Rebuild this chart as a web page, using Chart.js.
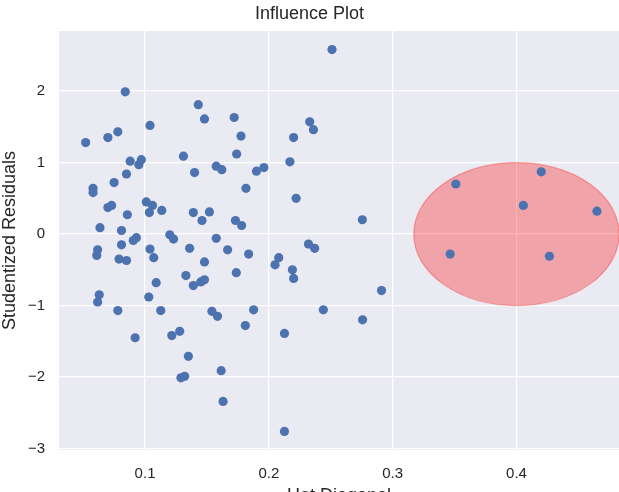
<!DOCTYPE html>
<html>
<head>
<meta charset="utf-8">
<script src="https://cdn.jsdelivr.net/npm/chart.js@4/dist/chart.umd.min.js"></script>
<style>
  html, body { margin: 0; padding: 0; background: #fff; overflow: hidden; }
  #wrap { width: 619px; height: 507px; }
</style>
</head>
<body>
<div id="wrap"><canvas id="influence" width="619" height="507"></canvas></div>
<script>
// leverage (hat diagonal) and studentized residual per observation
const hatDiagonal = [
  0.251, 0.084, 0.143, 0.148, 0.104, 0.078, 0.070, 0.052, 0.131, 0.088,
  0.097, 0.095, 0.140, 0.085, 0.075, 0.058, 0.058, 0.101, 0.106, 0.070,
  0.073, 0.1035, 0.1135, 0.0857, 0.139, 0.146, 0.152, 0.0636, 0.081, 0.120,
  0.123, 0.093, 0.0905, 0.081, 0.104, 0.107, 0.136, 0.0617, 0.061, 0.079,
  0.085, 0.148, 0.133, 0.139, 0.145, 0.148, 0.109, 0.063, 0.0617, 0.103,
  0.078, 0.1127, 0.154, 0.1585, 0.092, 0.1216, 0.128, 0.135, 0.129, 0.132,
  0.172, 0.1775, 0.174, 0.233, 0.236, 0.220, 0.217, 0.1575, 0.162, 0.190,
  0.196, 0.1815, 0.222, 0.173, 0.178, 0.2755, 0.1575, 0.1667, 0.1837, 0.232,
  0.237, 0.208, 0.205, 0.219, 0.220, 0.1737, 0.291, 0.1877, 0.244, 0.2757,
  0.181, 0.2126, 0.1615, 0.163, 0.2126,
  0.351, 0.420, 0.4055, 0.465, 0.3464, 0.4266
];
const studentizedResiduals = [
  2.58, 1.99, 1.81, 1.61, 1.52, 1.43, 1.35, 1.28, 1.09, 1.02,
  1.04, 0.97, 0.86, 0.84, 0.72, 0.64, 0.58, 0.45, 0.40, 0.37,
  0.40, 0.30, 0.33, 0.27, 0.30, 0.19, 0.31, 0.09, 0.05, -0.01,
  -0.07, -0.05, -0.09, -0.15, -0.21, -0.33, -0.20, -0.22, -0.30, -0.35,
  -0.37, -0.39, -0.58, -0.72, -0.67, -0.64, -0.68, -0.85, -0.95, -0.88,
  -1.07, -1.07, -1.08, -1.15, -1.45, -1.42, -1.36, -1.71, -2.01, -1.99,
  1.63, 1.37, 1.12, 1.57, 1.46, 1.35, 1.01, 0.95, 0.90, 0.88,
  0.93, 0.64, 0.50, 0.19, 0.12, 0.20, -0.06, -0.22, -0.28, -0.14,
  -0.20, -0.33, -0.43, -0.50, -0.62, -0.54, -0.79, -1.06, -1.06, -1.20,
  -1.28, -1.39, -1.91, -2.34, -2.76,
  0.70, 0.87, 0.40, 0.32, -0.28, -0.31
];
// highlighted region: centre and half-axes in data units
const ellipseCenter = [0.4, 0];
const ellipseRadii = [0.083, 1.0];

const xTicks = [0.1, 0.2, 0.3, 0.4];
const yTicks = [-3, -2, -1, 0, 1, 2];

const points = hatDiagonal.map((x, i) => ({ x: x, y: studentizedResiduals[i] }));

const textColor = "#262626";
const fontFamily = "'Liberation Sans', Arial, sans-serif";

const styleBackground = {
  id: "styleBackground",
  beforeDraw(chart) {
    const { ctx, chartArea: a } = chart;
    ctx.save();
    ctx.fillStyle = "#EAEAF2";
    ctx.fillRect(a.left, a.top, a.right - a.left, a.bottom - a.top);
    ctx.restore();
  },
  beforeDatasetsDraw(chart) {
    const { ctx, chartArea: a, scales } = chart;
    const cx = scales.x.getPixelForValue(ellipseCenter[0]);
    const cy = scales.y.getPixelForValue(ellipseCenter[1]);
    const rx = scales.x.getPixelForValue(ellipseCenter[0] + ellipseRadii[0]) - cx;
    const ry = cy - scales.y.getPixelForValue(ellipseCenter[1] + ellipseRadii[1]);
    ctx.save();
    ctx.beginPath();
    ctx.rect(a.left, a.top, a.right - a.left, a.bottom - a.top);
    ctx.clip();
    ctx.beginPath();
    ctx.ellipse(cx, cy, rx, ry, 0, 0, Math.PI * 2);
    ctx.fillStyle = "rgba(255, 0, 0, 0.3)";
    ctx.fill();
    ctx.strokeStyle = "rgba(255, 0, 0, 0.3)";
    ctx.lineWidth = 1.2;
    ctx.stroke();
    ctx.restore();
  },
};

new Chart(document.getElementById("influence"), {
  type: "scatter",
  data: {
    datasets: [
      {
        data: points,
        backgroundColor: "#4C72B0",
        borderWidth: 0,
        pointRadius: 4.6,
        pointHoverRadius: 4.6,
      },
    ],
  },
  options: {
    responsive: false,
    animation: false,
    layout: { padding: 0, autoPadding: false },
    plugins: {
      legend: { display: false },
      tooltip: { enabled: false },
      title: {
        display: true,
        text: "Influence Plot",
        color: textColor,
        font: { family: fontFamily, size: 18, weight: "normal" },
        padding: { top: 3, bottom: 6.4 },
      },
    },
    scales: {
      x: {
        type: "linear",
        min: 0.0305,
        max: 0.4828,
        afterBuildTicks: (scale) => {
          scale.ticks = xTicks.map((v) => ({ value: v }));
        },
        afterFit: (scale) => {
          scale.height = 57;
        },
        ticks: {
          color: textColor,
          font: { family: fontFamily, size: 15 },
          padding: 15,
          callback: (v) => Number(v).toFixed(1),
        },
        grid: { color: "#ffffff", lineWidth: 1.2, drawTicks: false },
        border: { display: false },
        title: {
          display: true,
          text: "Hat Diagonal",
          color: textColor,
          font: { family: fontFamily, size: 18 },
          padding: { top: 4, bottom: 0 },
        },
      },
      y: {
        type: "linear",
        min: -3.02,
        max: 2.84,
        afterBuildTicks: (scale) => {
          scale.ticks = yTicks.map((v) => ({ value: v }));
        },
        afterFit: (scale) => {
          scale.width = 59;
        },
        ticks: {
          color: textColor,
          font: { family: fontFamily, size: 15 },
          padding: 14,
          callback: (v) => (v < 0 ? "\u2212" + Math.abs(v) : String(v)),
        },
        grid: { color: "#ffffff", lineWidth: 1.2, drawTicks: false },
        border: { display: false },
        title: {
          display: true,
          text: "Studentized Residuals",
          color: textColor,
          font: { family: fontFamily, size: 18, lineHeight: 1.1 },
          padding: { top: 0, bottom: 4 },
        },
      },
    },
  },
  plugins: [styleBackground],
});
</script>
</body>
</html>
